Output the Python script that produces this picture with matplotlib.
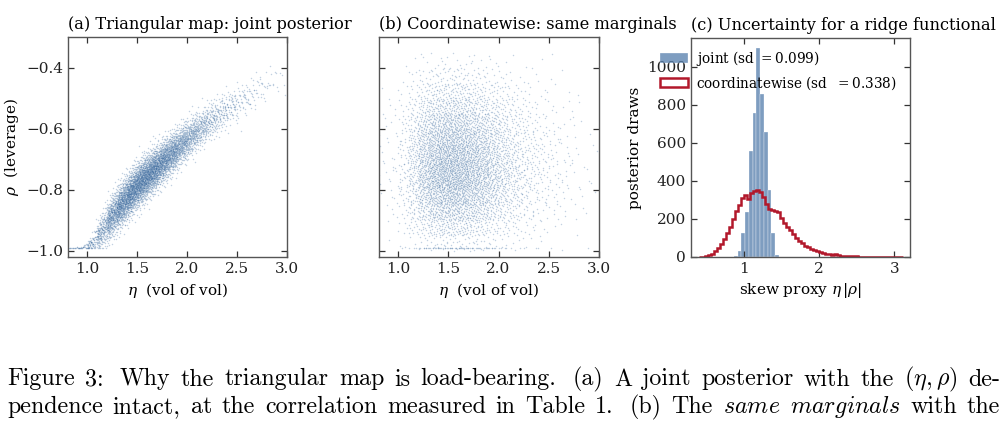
import numpy as np
import matplotlib
matplotlib.use("Agg")
import matplotlib.pyplot as plt

plt.rcParams['font.family'] = 'DejaVu Serif'
plt.rcParams['mathtext.fontset'] = 'dejavuserif'

# ---- data ----
# eta marginal: 0.1-wide bins, lower edges 0.80 .. 2.90
eta_lo = [0.80, 0.90, 1.00, 1.10, 1.20, 1.30, 1.40, 1.50, 1.60, 1.70, 1.80,
          1.90, 2.00, 2.10, 2.20, 2.30, 2.40, 2.50, 2.60, 2.70, 2.80, 2.90]
eta_count = [15, 25, 80, 200, 380, 520, 600, 620, 580, 500, 420,
             320, 240, 170, 120, 85, 60, 40, 28, 18, 10, 6]
# joint ridge in panel (a): rho centre and spread (sd) of the band per eta bin
ridge_rho = [-0.99, -0.99, -0.975, -0.935, -0.885, -0.845, -0.805, -0.77, -0.74, -0.71, -0.68,
             -0.65, -0.622, -0.595, -0.57, -0.548, -0.525, -0.505, -0.488, -0.47, -0.45, -0.43]
ridge_sd = [0.0, 0.002, 0.015, 0.03, 0.034, 0.036, 0.036, 0.036, 0.035, 0.034, 0.033,
            0.032, 0.031, 0.03, 0.03, 0.03, 0.03, 0.03, 0.03, 0.03, 0.03, 0.03]
# rho marginal for panel (b): 0.05-wide bins, lower edges -1.00 .. -0.40
rho_lo = [-1.00, -0.95, -0.90, -0.85, -0.80, -0.75, -0.70, -0.65,
          -0.60, -0.55, -0.50, -0.45, -0.40]
rho_count = [80, 220, 400, 560, 700, 720, 650, 550, 430, 290, 170, 80, 30]
rho_clip = -0.99
rho_clip_count = 70

# panel (c): joint histogram of eta*|rho|
joint_edges = [0.86, 0.91, 0.96, 1.01, 1.06, 1.11, 1.16, 1.21, 1.26, 1.31, 1.36, 1.41, 1.46]
joint_counts = [5, 30, 125, 235, 555, 755, 1100, 860, 660, 350, 125, 10]
# coordinatewise histogram, 0.04-wide bins from 0.40
cw_lo = 0.40
cw_counts = [1, 2, 4, 8, 15, 30, 48, 70, 95, 125, 160, 200, 240, 275, 310, 325, 305,
             335, 345, 355, 340, 315, 280, 250, 245, 240, 235, 205, 180, 160, 140, 120,
             100, 85, 72, 60, 52, 44, 36, 30, 25, 20, 17, 14, 12, 14, 9, 7, 6, 5, 4,
             3, 3, 2, 2, 1, 1, 1, 0, 1, 0, 1, 0, 0, 1, 0, 1, 0]
joint_label = 'joint (sd $= 0.099$)'
cw_label = 'coordinatewise (sd  $= 0.338$)'

caption = [
    ['Figure', '3:', 'Why', 'the', 'triangular', 'map', 'is', 'load-bearing.', '(a)', 'A',
     'joint', 'posterior', 'with', 'the', r'$(\eta,\rho)$', 'de-'],
    ['pendence', 'intact,', 'at', 'the', 'correlation', 'measured', 'in', 'Table', '1.',
     '(b)', 'The', r'$\mathit{same}$', r'$\mathit{marginals}$', 'with', 'the'],
]


# scrambled Halton sequence: deterministic layout of the dots
def halton(n, base, mult):
    k = np.arange(1, n + 1)
    out = np.zeros(n)
    f = 1.0
    while k.any():
        f /= base
        out += f * ((k % base) * mult % base)
        k //= base
    return out


def inv_cdf(q, lo, width, counts):
    edges = np.append(np.array(lo), lo[-1] + width)
    cdf = np.concatenate([[0], np.cumsum(counts)]) / np.sum(counts)
    return np.interp(q, cdf, edges)


zgrid = np.linspace(-3.5, 3.5, 701)
zcdf = np.cumsum(np.exp(-zgrid ** 2 / 2))
zcdf = (zcdf - zcdf[0]) / (zcdf[-1] - zcdf[0])

eta_c = np.array(eta_lo) + 0.05
N = sum(eta_count)

# panel (a): eta from its marginal, rho scattered around the ridge
xa = inv_cdf(halton(N, 7, 3), eta_lo, 0.1, eta_count)
za = np.interp(halton(N, 11, 7), zcdf, zgrid)
ya = np.interp(xa, eta_c, ridge_rho) + np.interp(xa, eta_c, ridge_sd) * za
ya = np.maximum(ya, rho_clip)

# panel (b): same marginals, paired independently
Nb = N + rho_clip_count
p_clip = rho_clip_count / Nb
xb = inv_cdf(halton(Nb, 13, 5), eta_lo, 0.1, eta_count)
vb = halton(Nb, 17, 10)
yb = np.where(vb < p_clip, rho_clip,
              inv_cdf((vb - p_clip) / (1 - p_clip), rho_lo, 0.05, rho_count))

W, H = 1008, 429
fig = plt.figure(figsize=(W / 100, H / 100), dpi=100)


def axes_px(left, top, right, bottom):
    return fig.add_axes([left / W, 1 - bottom / H, (right - left) / W, (bottom - top) / H])


ax1 = axes_px(68, 37, 287, 257)
ax2 = axes_px(379, 37, 599, 257)
ax3 = axes_px(691, 38, 910, 257)

dot_color = '#2a5d96'
for ax, xs, ys in [(ax1, xa, ya), (ax2, xb, yb)]:
    ax.scatter(xs, ys, s=1.1, color=dot_color, alpha=0.28, linewidths=0)
    ax.set_xlim(0.81, 3.0)
    ax.set_ylim(-1.02, -0.30)
    ax.set_xticks([1.0, 1.5, 2.0, 2.5, 3.0])
    ax.set_yticks([-1.0, -0.8, -0.6, -0.4])
    ax.set_xlabel(r'$\eta$  (vol of vol)', fontsize=11)
ax1.set_ylabel(r'$\rho$  (leverage)', fontsize=11)
ax2.set_yticklabels([])

ax1.set_title('(a) Triangular map: joint posterior', loc='left', fontsize=11.7)
ax2.set_title('(b) Coordinatewise: same marginals', loc='left', fontsize=11.7)
ax3.set_title('(c) Uncertainty for a ridge functional', loc='left', fontsize=11.7)

# panel (c)
cw_edges = cw_lo + 0.04 * np.arange(len(cw_counts) + 1)
ax3.hist(joint_edges[:-1], bins=joint_edges, weights=joint_counts, color='#4c78a8',
         alpha=0.72, edgecolor=(1, 1, 1, 0.35), linewidth=0.3, label=joint_label)
ax3.hist(cw_edges[:-1], bins=cw_edges, weights=cw_counts, histtype='step',
         color='#b2182b', linewidth=1.8, label=cw_label)
ax3.set_xlim(0.29, 3.21)
ax3.set_ylim(0, 1152)
ax3.set_xticks([1, 2, 3])
ax3.set_yticks([0, 200, 400, 600, 800, 1000])
ax3.set_xlabel(r'skew proxy $\eta\,|\rho|$', fontsize=11)
ax3.set_ylabel('posterior draws', fontsize=11)
ax3.legend(loc='upper left', bbox_to_anchor=(-0.165, 0.975), frameon=False, fontsize=9.8,
           borderaxespad=0, handletextpad=0.6, labelspacing=0.45)

for ax in (ax1, ax2, ax3):
    ax.tick_params(direction='in', top=True, right=True, length=4.5, width=0.9,
                   labelsize=11, colors='#333333', labelcolor='#222222')
    for sp in ax.spines.values():
        sp.set_color('#555555')
        sp.set_linewidth(1.0)

# caption below the figure, justified like the LaTeX source
renderer = fig.canvas.get_renderer()
x_left, x_right = 7, 1000
for words, base in zip(caption, [385.5, 413]):
    texts = [fig.text(0, 1 - base / H, w, fontsize=17.3, family='cmr10', math_fontfamily='cm',
                      va='baseline', ha='left') for w in words]
    widths = [t.get_window_extent(renderer).width for t in texts]
    weights = [1.6 if w.endswith('.') or w.endswith(':') else 1.0 for w in words[:-1]]
    gap = (x_right - x_left - sum(widths)) / sum(weights)
    x = x_left
    for t, w, wt in zip(texts, widths, weights + [0]):
        t.set_x(x / W)
        x += w + gap * wt

fig.savefig('out.png', dpi=100)
